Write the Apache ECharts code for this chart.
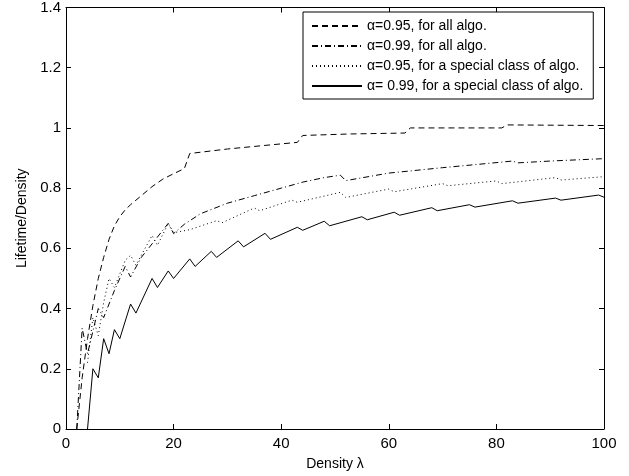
<!DOCTYPE html>
<html>
<head>
<meta charset="utf-8">
<script src="https://cdn.jsdelivr.net/npm/echarts@6/dist/echarts.min.js"></script>
<style>
html, body { margin: 0; padding: 0; background: #fff; }
#chart { width: 629px; height: 476px; }
</style>
</head>
<body>
<div id="chart"></div>
<script>
var seriesNames = [
	'\u03b1=0.95, for all algo.',
	'\u03b1=0.99, for all algo.',
	'\u03b1=0.95, for a special class of algo.',
	'\u03b1= 0.99, for a special class of algo.'
];

// alpha=0.95, all algorithms (dashed)
var allA95X = [2, 3, 4, 5, 6, 7, 8, 9, 10, 11, 12, 14, 16, 18, 20, 22, 23, 30, 37, 43, 44, 53, 63, 64, 81, 82, 100];
var allA95Y = [0, 0.17, 0.3, 0.41, 0.5, 0.57, 0.63, 0.675, 0.705, 0.728, 0.745, 0.775, 0.805, 0.83, 0.848, 0.865, 0.915, 0.93, 0.942, 0.952, 0.975, 0.98, 0.983, 1.0, 1.0, 1.01, 1.008];

// alpha=0.99, all algorithms (dash-dot)
var allA99X = [2, 3, 4, 6, 7, 9, 11, 12, 14, 16, 19, 20, 22, 25, 30, 35, 40, 44, 48, 51, 52, 60, 70, 76, 83, 84, 90, 100];
var allA99Y = [0, 0.335, 0.25, 0.40, 0.37, 0.46, 0.54, 0.505, 0.57, 0.615, 0.683, 0.649, 0.68, 0.715, 0.75, 0.775, 0.8, 0.82, 0.835, 0.843, 0.825, 0.85, 0.868, 0.878, 0.89, 0.884, 0.89, 0.898];

// alpha=0.95, special class (dotted)
var spA95X = [4, 5, 6, 7, 8, 9, 11, 12, 13, 16, 17, 19, 20, 23, 28, 29, 35, 36, 42, 43, 51, 52, 60, 61, 70, 71, 80, 81, 91, 92, 100];
var spA95Y = [0.22, 0.37, 0.31, 0.42, 0.5, 0.47, 0.56, 0.577, 0.544, 0.643, 0.61, 0.683, 0.652, 0.662, 0.692, 0.685, 0.734, 0.725, 0.76, 0.753, 0.786, 0.769, 0.797, 0.788, 0.815, 0.808, 0.824, 0.815, 0.835, 0.827, 0.838];

// alpha=0.99, special class (solid)
var spA99X = [4, 5, 6, 7, 8, 9, 10, 12, 13, 16, 17, 19, 20, 23, 24, 27, 28, 32, 33, 37, 38, 43, 44, 48, 49, 55, 56, 61, 62, 68, 69, 75, 76, 83, 84, 91, 92, 99, 100];
var spA99Y = [0, 0.2, 0.17, 0.3, 0.25, 0.33, 0.3, 0.415, 0.385, 0.5, 0.47, 0.525, 0.5, 0.565, 0.54, 0.59, 0.57, 0.625, 0.605, 0.65, 0.63, 0.67, 0.66, 0.69, 0.675, 0.705, 0.695, 0.72, 0.71, 0.735, 0.725, 0.745, 0.737, 0.758, 0.75, 0.767, 0.76, 0.777, 0.77];

var lineTypes = [[6, 4], [6, 3, 1, 3], [1, 3], 'solid'];

function pairs(xs, ys) {
	return xs.map(function(x, i) { return [x, ys[i]]; });
}

var allData = [pairs(allA95X, allA95Y), pairs(allA99X, allA99Y), pairs(spA95X, spA95Y), pairs(spA99X, spA99Y)];

var font = 'Liberation Sans, Arial, Helvetica, sans-serif';
var axisLine = { show: true, onZero: false, lineStyle: { color: '#000', width: 1 } };
var tick = { show: true, inside: true, length: 5, lineStyle: { color: '#000' } };

var chart = echarts.init(document.getElementById('chart'));

var option = {
	animation: false,
	backgroundColor: '#fff',
	grid: { left: 66, right: 25, top: 5, bottom: 46, containLabel: false },
	legend: {
		data: seriesNames,
		orient: 'vertical',
		left: 303,
		top: 12,
		padding: [7, 10, 6, 8],
		itemGap: 6,
		itemWidth: 50,
		itemHeight: 16,
		itemStyle: { opacity: 0 },
		backgroundColor: '#fff',
		borderColor: '#000',
		borderWidth: 1,
		borderRadius: 0,
		textStyle: { fontFamily: font, fontSize: 14, color: '#000' }
	},
	xAxis: [{
		type: 'value', min: 0, max: 100, interval: 20,
		name: 'Density \u03bb', nameLocation: 'middle', nameGap: 28,
		nameTextStyle: { fontFamily: font, fontSize: 14, color: '#000' },
		axisLine: axisLine, axisTick: tick, splitLine: { show: false },
		axisLabel: { fontFamily: font, fontSize: 15, color: '#000', margin: 7 }
	}, {
		type: 'value', min: 0, max: 100, interval: 20, position: 'top',
		axisLine: axisLine, axisTick: tick, splitLine: { show: false },
		axisLabel: { show: false }
	}],
	yAxis: [{
		type: 'value', min: 0, max: 1.4, interval: 0.2,
		name: 'Lifetime/Density', nameLocation: 'middle', nameGap: 37,
		nameTextStyle: { fontFamily: font, fontSize: 14, color: '#000' },
		axisLine: axisLine, axisTick: tick, splitLine: { show: false },
		axisLabel: { fontFamily: font, fontSize: 15, color: '#000', margin: 5 }
	}, {
		type: 'value', min: 0, max: 1.4, interval: 0.2, position: 'right',
		axisLine: axisLine, axisTick: tick, splitLine: { show: false },
		axisLabel: { show: false }
	}],
	series: seriesNames.map(function(name, i) {
		return {
			name: name,
			type: 'line',
			xAxisIndex: 0,
			yAxisIndex: 0,
			data: allData[i],
			symbol: 'none',
			showSymbol: false,
			color: '#000',
			lineStyle: { color: '#000', width: 1, type: lineTypes[i] }
		};
	})
};

chart.setOption(option);
</script>
</body>
</html>
